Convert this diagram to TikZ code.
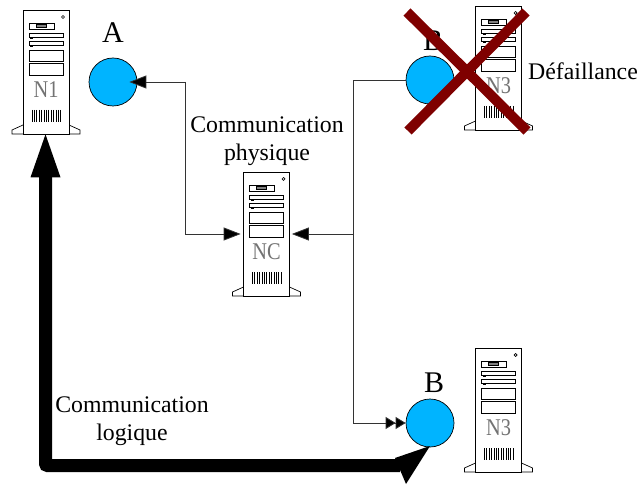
\documentclass[tikz,border=0pt]{standalone}
\usepackage{fontspec}
\usepackage{graphicx}
\setmainfont{Liberation Serif}
\usetikzlibrary{arrows.meta}
\definecolor{discblue}{HTML}{00B4FF}
\definecolor{crossred}{HTML}{7F0000}
\tikzset{
  srvline/.style={draw=black,line width=0.7pt,fill=white},
  srvbody/.style={srvline,minimum width=46pt,minimum height=124pt,inner sep=0pt},
  srvtext/.style={text=black!55,font=\fontsize{24}{24}\selectfont,inner sep=0pt},
  disc/.style={circle,draw=black,line width=0.7pt,fill=discblue,minimum size=48pt,inner sep=0pt},
  lbl/.style={font=\fontsize{23.8}{28}\selectfont,align=center,inner sep=0pt,text=black},
  bigl/.style={font=\fontsize{30}{30}\selectfont,inner sep=0pt,text=black},
  link/.style={draw=black!80,line width=0.8pt},
  tip/.style={-{Triangle[length=17pt,width=13pt,fill=black]}},
  dbltip/.style={-{Triangle[length=10pt,width=12pt,fill=black]Triangle[length=10pt,width=12pt,fill=black]}},
  logic/.style={draw=black,line width=13pt,rounded corners=2pt},
  strike/.style={draw=crossred,line width=10pt}
}
\newcommand{\srvbox}[4]{% name, left x, top y, label
  \begin{scope}[shift={(#2,#3)}]
    \draw[srvline] (0,115) -- (-11,120) -- (-11,124) -- (57,124) -- (57,120) -- (46,115);
    \node[srvbody] (#1) at (23,62) {};
    \draw[line width=0.7pt] (40,7) circle (1.5pt);
    \draw[line width=0.7pt] (6,13) rectangle (31,19);
    \draw[line width=0.5pt,fill=black!50] (13,14.5) rectangle (23,17.5);
    \draw[line width=0.7pt] (6,23) rectangle (40,27);
    \draw[line width=0.7pt] (6,31) rectangle (40,35);
    \fill (7,28) rectangle (10,29);
    \fill (7,36) rectangle (10,37);
    \draw[line width=0.7pt] (6,40) rectangle (40,51);
    \draw[line width=0.7pt] (6,53) rectangle (40,65);
    \node[srvtext] (#1t) at (23,80) {\scalebox{.85}[1]{#4}};
    \foreach \bx in {9,11.4,...,38.2} \draw[line width=0.9pt] (\bx,100) -- (\bx,112);
  \end{scope}}
\begin{document}
\begin{tikzpicture}[x=1pt,y=-1pt]
\useasboundingbox (0,0) rectangle (639,486);
\fill[white] (0,0) rectangle (639,486);
\srvbox{NA}{23}{10}{N1}
\srvbox{NC}{243.5}{172}{NC}
\srvbox{NB}{475.5}{6}{N3}
\srvbox{ND}{475.5}{348}{N3}
\node[disc] (A) at (113,82) {};
\node[disc] (Btop) at (430,80) {};
\node[disc] (Blow) at (430,423) {};
\node[bigl] (LA) at (113,33) {A};
\node[bigl] (LBtop) at (433,41) {B};
\node[bigl] (LBlow) at (434,383) {B};
\node[lbl] (phys) at (267,141.5) {Communication\\physique};
\node[lbl] (logi) at (132,421.5) {Communication\\logique};
\node[lbl] (def) at (583,71) {Défaillance};
\coordinate (cA) at (185,82);
\coordinate (bus) at (353,234);
\draw[link,tip,shorten >=-8pt] (cA) -- (A.east);
\draw[link,tip] (cA) -- (cA |- NC.west) -- ([xshift=-2.5pt]NC.west);
\draw[link,tip] (bus) -- ([xshift=2pt]NC.east);
\draw[link] (Btop.west) -- (Btop.west -| bus) -- (bus);
\draw[link,dbltip] (bus) -- (bus |- Blow.west) -- (Blow.west);
% logical link
\coordinate (lcorner) at (45.5,465.5);
\coordinate (lend) at (400,465.5);
\draw[logic] (NA.south -| lcorner) ++(0,40) -- (lcorner) -- (lend);
\fill[black] ([xshift=-0.5pt]NA.south -| lcorner) ++(0.5,0) -- ++(-15,43) -- ++(30,0) -- cycle;
\fill[black] (430,446) -- (395,458) -- (406,484) -- cycle;
% failure cross
\draw[strike] (407,12) -- (527,131);
\draw[strike] (526,12) -- (408,131);
\end{tikzpicture}
\end{document}
